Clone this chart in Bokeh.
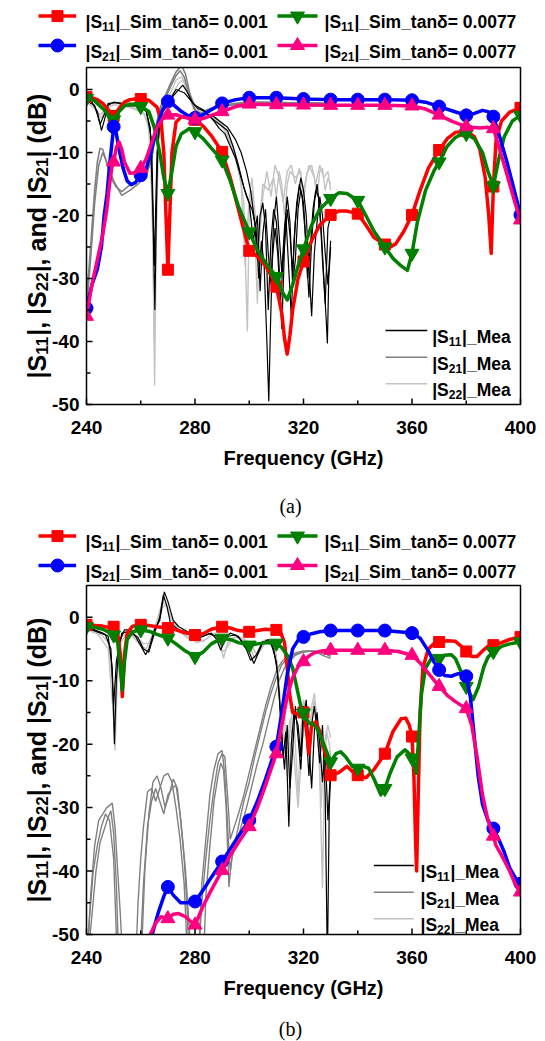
import math
from bokeh.plotting import figure
from bokeh.layouts import column
from bokeh.models import Range1d
from bokeh.embed import file_html
from bokeh.resources import INLINE
from bokeh.core.properties import value

# ------------------------------------------------------------------ data (a)
A_RED_F = [240,242,244,246,248,250,252,254,256,258,260,263,266,267.5,268.5,269.3,270,270.7,271.5,273,275,277,280,283,286,290,293,296,300,303,306,308,310,312,313,314,315,316,318,320,323,326,330,333,336,340,343,346,350,352,354,357,360,363,366,370,373,376,380,383,385,387,388.3,389.2,390,391,393,396,400]
A_RED_V = [-1.2,-1.3,-1.6,-2.2,-3.2,-4.2,-3.0,-2.0,-1.6,-1.5,-1.5,-1.7,-2.8,-5,-10,-20,-28.6,-20,-10,-5.2,-4.3,-4.4,-4.8,-5.8,-7.3,-9.9,-14,-19,-25.6,-26.5,-28,-29.5,-31.3,-35.5,-39.5,-42,-39,-35,-30,-27.3,-24,-21.5,-19.9,-19.3,-19.3,-19.7,-21.5,-23.5,-24.6,-25,-24.5,-22.5,-19.9,-16,-12.5,-9.6,-7.8,-6.8,-6.6,-7.5,-9.5,-14,-20,-26,-15.4,-8,-5,-3.6,-2.9]
A_GRN_F = [240,243,246,248,250,252,254,256,258,260,263,265,267,268.5,270,271.5,273,275,278,280,283,286,290,293,296,300,303,306,310,312,314,316,318,320,323,326,330,333,336,340,343,346,350,353,356,358.3,360,362,365,368,370,373,376,379,380,383,386,388,390,392,394,397,400]
A_GRN_V = [-1.4,-1.8,-3.0,-4.0,-4.8,-3.5,-2.6,-2.3,-2.4,-2.7,-3.5,-6,-10,-14,-16.5,-13,-9,-7,-6.2,-6.7,-7.8,-9.3,-11.2,-14.5,-18.5,-22.6,-25.5,-27.5,-29.7,-32,-33.4,-31,-28,-25.3,-21.5,-19,-17.3,-16.4,-16.5,-17.6,-20,-22.5,-25.0,-26.8,-28,-28.7,-26.0,-21,-16,-13,-11.5,-9,-7.6,-6.9,-7.0,-7.8,-10,-13,-15.3,-11,-7.5,-5,-4.1]
A_BLU_F = [240,242,244,245.5,246.5,247.6,248.5,249.5,250,251,252,253.5,255,256.5,258,260,262,264,266,268,270,272,275,278,280,283,286,290,295,300,310,320,330,340,350,360,365,370,375,380,383,386,388,390,392,395,398,400]
A_BLU_V = [-34.7,-31,-28.5,-25,-20,-16.5,-12,-8,-5.9,-7,-9.5,-12.5,-14.5,-15.1,-14.8,-13.6,-12.6,-9.5,-6,-3.3,-1.9,-2.4,-3.5,-4.3,-4.5,-4.0,-3.2,-2.2,-1.6,-1.3,-1.3,-1.5,-1.6,-1.6,-1.6,-1.7,-2.0,-2.7,-3.4,-4.1,-3.8,-3.3,-3.5,-4.3,-7,-11.5,-16.5,-19.9]
A_PNK_F = [240,242,244,246,247.5,248.5,249.3,250,251,252,253,254,256,258,260,262,264,266,268,270,273,276,280,283,286,290,295,300,310,320,330,340,350,360,365,370,375,380,385,388,390,392,395,398,400]
A_PNK_V = [-36,-31,-27,-23,-19,-15,-12.5,-11.5,-9.2,-8.3,-9.5,-11.5,-13.3,-13.2,-12.5,-11,-8.5,-6,-4.7,-4.05,-4.0,-4.4,-4.8,-4.6,-4.1,-3.5,-2.7,-2.3,-2.4,-2.45,-2.5,-2.5,-2.5,-2.6,-3.1,-4.05,-5.1,-5.9,-6.1,-6.0,-6.2,-9,-13.5,-18,-20.7]

A_S11M1_F = [240,242,244,245.5,246.5,248,250,253,256,258,260,262,263.5,264.5,265.2,265.8,266.5,268,270,272,274,275.5,277,279,281,284,287,289,291,293,295,297,299,301,302.5,303.5,304.5,305.5,306.5,307.2,307.8,308.5,309.5,310.5,311.5,312.5,313.5,314.5,315.5,316.5,317.5,318.5,319.5,320.5,321.5,322.5,323.5,324.5,325.5,326.5,327.5,328.3,328.8,329.3,330]
A_S11M1_V = [-1.5,-2.0,-3.5,-6.5,-5,-2.5,-2.0,-2.2,-2.5,-2.3,-2.8,-3.5,-6,-20,-35,-18,-6,-3.5,-2.5,-1,0,0.7,-0.3,-2,-3,-3.5,-5,-6.2,-7,-9,-11,-14,-17,-19,-22,-30,-24,-28,-40,-49.5,-38,-27,-22,-26,-34,-27,-20,-28,-36,-24,-18,-15,-17,-22,-30,-25,-19,-16,-17,-22,-30,-36,-40.3,-30,-25]
A_S11M2_F = [240,243,245,246.5,248,251,255,259,262,264,265,266,267.5,270,273,276,278,280,283,286,289,292,294,296,298,300,301.5,303,304,305,306,307,308,309,310,311,312,313,314,315,316,317,318,319,320,321,322,323,324,325,326,327,328,329,330]
A_S11M2_V = [-1.8,-2.5,-5.5,-4,-2.2,-2.1,-2.6,-2.6,-3.2,-8,-28,-10,-4,-2.2,0,-0.5,-1.5,-2.5,-3.2,-4.5,-5.5,-6.5,-9,-12,-15.5,-18,-24,-20,-32,-23,-19,-26,-31,-21,-17,-23,-29,-22,-17,-21,-31,-27,-19,-16,-18,-25,-33,-24,-18,-15,-19,-27,-34,-22,-20]
A_S11M3_F = [286,289,292,295,297,299,300.5,302,303,304,305,306,307,308,309,310,311,312,313,314,315,316,317,318,319,320,321,322,323,324,325,326,327,328,329,330]
A_S11M3_V = [-4,-5,-6,-8,-10,-13,-16,-21,-27,-20,-18,-22,-35,-24,-19,-21,-28,-38,-25,-19,-23,-29,-21,-17,-14,-16,-20,-28,-36,-26,-21,-17,-20,-26,-31,-24]
A_S22M1_F = [240,242,244,245.5,247,249,252,255,258,260,262,263.5,264.5,265.1,265.7,266.5,268,270,272,274,275.5,277,279,282,285,288,290,292,294,296,298,299.3,300,301,302,303,304,305,307,309,310,311,312,313,314,315,317,319,320,321,322,324,325,326,327,328,329,330]
A_S22M1_V = [-1.8,-2.2,-3.8,-4.5,-3.0,-2.2,-2.0,-2.5,-3.0,-3.5,-4,-8,-25,-47,-25,-8,-3.5,-2,-0.5,1.0,1.5,0,-2.5,-3.5,-4,-4.5,-5.5,-7,-9,-12,-18,-38.4,-20,-16,-22,-34,-20,-15,-16,-14,-17,-13,-15,-20,-15,-13,-14,-13,-18,-14,-12,-14,-17,-13,-12.5,-16,-14,-15]
A_S22M2_F = [240,243,245,247,250,254,258,261,263,264.3,265,265.8,267,269,271,273,275,277,280,284,288,291,293,295,297,298.5,300,301,302,303.5,305,306.5,308,309.5,311,312.5,314,315.5,317,318.5,320,321.5,323,324.5,326,327.5,329,330]
A_S22M2_V = [-2,-3,-4,-3.2,-2.4,-2.6,-3.2,-3.8,-6,-18,-40,-15,-5,-2.5,-0.5,1.5,2,0.5,-2.5,-3.8,-4.8,-6.5,-8.5,-11,-15,-28,-17,-14,-19,-25,-17,-13,-17,-12,-14,-18,-13,-12,-15,-12.5,-16,-13,-12,-15,-12,-14,-13,-16]
A_S21M1_F = [240,241,242,243,244,245,246,247,249,251,253,255,257,259,261,263,264.5,265.5,267,269,271,273,275,276.5,278,280,282,284,287,290,295,300,305,310,315,320,325,330]
A_S21M1_V = [-33,-28,-22,-16,-11.5,-9.3,-9.5,-11,-14,-15.5,-16.2,-15.5,-14.8,-14.5,-13.5,-12,-10,-6,-3,-1,1,2.8,3.8,2.5,-0.5,-3.2,-3.8,-3.3,-2.8,-2.5,-2.2,-2.0,-2.0,-2.0,-2.1,-2.1,-2.1,-2.2]
A_S21M2_F = [240,241.5,243,244.5,246,247.5,250,253,256,259,262,264,265.5,267,269,271,273,274.5,276,278,280,283,286,290,300,310,320,330]
A_S21M2_V = [-35,-27,-18,-12,-10,-11.5,-14.5,-16.8,-16,-15,-13.8,-11,-6.5,-3.5,-1.5,0.5,2.2,3.0,2.0,-1,-3.5,-4,-3,-2.6,-2.2,-2.1,-2.2,-2.3]

# ------------------------------------------------------------------ data (b)
B_RED_F = [240,243,246,248,250,251.5,252.5,253.2,254,255,257,260,263,266,270,273,276,280,283,286,290,293,296,300,303,306,310,311.5,313,314,315,316,318,320,321,322,323,324.5,326,328,330,333,336,338,340,343,346,350,353,356,357.7,359,360,360.7,361.3,361.7,362.2,363,364,366,368,370,373,376,378,380,382,384,386,388,390,393,396,400]
B_RED_V = [-1.2,-1.3,-1.4,-1.6,-1.5,-2.5,-6,-12.5,-6,-2.5,-1.4,-1.2,-1.3,-1.5,-1.7,-2.0,-2.4,-2.8,-2.6,-1.9,-1.5,-1.7,-2.1,-2.3,-2.1,-1.9,-2.0,-2.3,-4,-8,-12.5,-15,-15.3,-15,-17.5,-21.5,-17,-16.5,-18,-21.5,-24.9,-24.5,-23.5,-24.3,-24.9,-25.3,-24,-21.5,-18,-16,-15.9,-17,-18.8,-25,-35,-40,-30,-15,-8,-5,-4.2,-3.9,-3.7,-3.8,-4.5,-5.4,-6.2,-6.2,-5.3,-4.6,-4.4,-4.0,-3.5,-3.1]
B_GRN_F = [240,243,246,248,250,251.5,252.5,253.2,254,255,257,260,263,266,270,273,276,280,283,286,290,293,296,300,303,306,310,312,314,316,317.5,319,320,321,322,323,325,327,330,332,333.7,335.5,338,340,342,344,346,348.5,350,352,354.5,357.4,359,360,361,361.6,362.3,363.5,365,367,370,372,374.4,376,378,380,382.5,384.5,386.5,388,390,393,396,400]
B_GRN_V = [-1.5,-1.6,-1.9,-2.3,-2.8,-4,-8,-11.5,-7,-3.5,-2.3,-2.0,-2.2,-2.7,-3.3,-4.2,-5.2,-6.2,-5.5,-4.2,-3.3,-3.5,-4.0,-4.4,-4.2,-4.0,-4.1,-4.8,-6,-8,-11,-14,-15.1,-16,-16.7,-16.7,-17.5,-19.5,-22.8,-21.5,-21.2,-22,-23.5,-23.8,-23.5,-23.8,-25.5,-28,-27,-24.5,-22,-20.9,-21.5,-22.2,-23.5,-24.6,-20,-12,-8,-6.6,-6.5,-6,-5.9,-6.5,-8.5,-10.9,-13.0,-11,-7.8,-6.3,-5.4,-4.6,-4.2,-3.9]
B_BLU_F = [240,250,260,263,264.2,266.5,268.5,270,272,274.7,277,280,283,286,290,293,296,300,303,306,310,312,314,316,318,320,323,326,330,340,350,360,363,366,368,370,372,374.5,377,379,380,381.5,383,384.4,386,388,390,392,394,396,398,400]
B_BLU_V = [-60,-58,-55,-51,-50,-46.5,-44,-42.5,-43.8,-45,-45,-44.8,-43,-41,-38.5,-36.5,-34.5,-32,-29,-25.5,-20.4,-15,-9,-5,-3.6,-3.1,-2.6,-2.3,-2.1,-2.1,-2.1,-2.5,-3.3,-5.3,-7,-8.3,-9.2,-9.3,-8.9,-8.9,-9.3,-12.5,-19,-25,-29.5,-32,-33.3,-35,-37,-39.5,-41,-42]
B_PNK_F = [240,255,262,263.5,265.5,267.5,270,272,274,276.5,279,280,283,286,290,293,296,300,303,306,310,312,314,316,318,320,322,324,327,330,340,350,355,360,363,366,370,373,376,380,382,384,386,388,390,391,393,396,398,400]
B_PNK_V = [-60,-57,-52,-50,-48.2,-47.2,-47.5,-46.8,-46.7,-47.2,-48.2,-48.5,-45.5,-43,-39.9,-37.5,-35.5,-33.0,-30,-26.5,-21.5,-17,-12.5,-9.5,-7.8,-7.0,-6.1,-5.6,-5.3,-5.2,-5.2,-5.2,-5.4,-6.0,-7.2,-8.8,-10.9,-12.3,-13.3,-14.4,-17,-22,-28,-32,-34.5,-36,-37.5,-40,-42,-43.3]

B_S11M1_F = [240,243,246,248,249.5,250.3,251,252,254,256,258,260,261.8,263,265,267,268.7,270,272,274,277,280,283,286,288,289.5,291,293,296,298,300,301.7,303,305,307,309,310.5,311.5,312.5,313.5,314.6,315.5,316.5,318,319,320,321,322,323,324,325,326,327,328,328.8,329.5,330]
B_S11M1_V = [-1.5,-2,-2.5,-3,-8,-20,-10,-4,-2,-2,-3,-4.5,-5.9,-5,-2,-0.5,4.0,2.5,-0.5,-1.5,-2.2,-2.8,-3,-2.5,-3.5,-5.2,-3.5,-2.5,-3,-4.5,-5.5,-7.3,-6,-4,-3.5,-5,-9,-15,-22,-18,-33,-20,-15,-17,-22,-14,-18,-25,-17,-14,-18,-23,-17,-28,-55,-30,-25]
B_S11M2_F = [240,244,247,249,250,251,253,256,259,261,263,265,267,268.3,269.5,271,274,278,282,285,288,290,292,295,298,300.5,302.5,305,308,310,311,312,313,314,315,316,317,318,319,320,321,322,323,324,325,326,327,328,329,330]
B_S11M2_V = [-1.7,-2.3,-2.8,-5,-14,-7,-2.5,-2.2,-3.2,-5,-5.5,-2.5,0,3.5,2,-1,-2,-2.5,-3.2,-2.6,-3,-4.6,-3,-2.8,-4,-6.8,-6,-3.8,-4,-7,-12,-19,-24,-17,-27,-21,-14,-19,-24,-16,-13,-20,-27,-18,-15,-20,-26,-21,-32,-24]
B_S22M1_F = [240,243,246,248,249.5,250.5,251.5,253,256,258,260,262,264,266,268,270,272,275,278,281,284,287,289,290.5,292,295,298,300,302,304,306,308,310,311,312,313,314,315,316,317,318,319,320,321,322,323,324,325,326,327,327.7,328.5,329.5,330]
B_S22M1_V = [-1.8,-2.2,-3,-4,-10,-21,-8,-3,-2.5,-3.5,-4.5,-5,-3,-0.5,2.5,1.5,-1,-2.5,-3.5,-4,-3.5,-2.5,-3.5,-6.5,-4,-3,-3.5,-4.5,-6.5,-5,-3.5,-4,-6,-12,-20,-15,-25,-18,-14,-20,-28,-18,-13,-15,-20,-14,-12,-16,-25,-42.7,-25,-18,-20,-22]
B_S22M2_F = [240,244,248,250,251,252.5,255,258,261,264,266,268,269.5,271,274,277,280,283,286,288,290,291.5,294,297,300,303,306,309,310.5,312,313.5,315,316.5,318,319.5,321,322.5,324,325.5,326.5,327.5,329,330]
B_S22M2_V = [-2,-2.6,-5,-16,-12,-4,-2.6,-3,-4.2,-4,-1.5,1.5,2,0,-2,-3,-3.8,-3.8,-2.8,-3,-5.5,-5,-3.2,-3.2,-4,-6,-4,-4.5,-8,-16,-22,-16,-22,-30,-20,-14,-17,-13,-18,-30,-20,-17,-19]
B_S21M1_F = [240,241.5,243,244.5,246,247.5,249.5,250.5,251.5,252.5,253.5,258,259,260,261,262.5,264,265.5,267,268.5,270,271.5,273,274.5,276,277.5,281,282.5,284,285.5,287,288.5,290,291,292,293,294,296,298,300,302,304,306,308,310,312,314,316,318,320,324,326,328,330]
B_S21M1_V = [-56,-44,-36,-32,-31,-30,-29.3,-33,-40,-47,-56,-56,-45,-38,-33,-27.5,-27,-29,-27,-25,-24.6,-26,-30,-35,-42,-56,-56,-42,-35,-28,-24,-21.5,-21,-25,-33,-40,-37,-33,-29,-26,-22,-18.5,-15,-12,-9.5,-7.5,-6.5,-6,-5.7,-5.5,-5.3,-5.5,-5.7,-6.2]
B_S21M2_F = [240,242,243.5,245,246.5,248,249,250,251,252,259.5,261,262.5,264,265.5,267,268.5,270,271.5,273,274.5,276,277,278,283,284,285.5,287,288.5,289.5,290.5,291.5,292.5,293.5,295,297,299,301,303,305,307,309,311,313,315,317,319,322,325,327,330]
B_S21M2_V = [-56,-47,-40,-35.5,-33.5,-31.5,-30.5,-34,-42,-56,-56,-42,-33,-29,-27,-29,-31,-28,-27,-26.5,-31,-38,-45,-56,-56,-44,-36,-29,-25,-23,-24,-30,-42.5,-38,-36,-33,-30,-26.5,-23,-20,-16.5,-13,-10,-8,-6.8,-6,-5.6,-5.3,-5.5,-6,-6.5]
B_S21M3_F = [240,241,242.5,244,245.5,247,248.5,250,251.5,260,261.5,263,264.5,266,267.5,269,270.5,272,273.5,275,276.5,279,281,282.5,284,285.5,287,288.5,290,291,292,293,294.5,296,298,300,302,304,306,308,310,312,314,316,318,320,323,326,330]
B_S21M3_V = [-56,-48,-40,-36,-33,-31,-32,-38,-56,-56,-40,-31,-26,-25,-27,-30,-28,-25.5,-27,-33,-40,-56,-56,-45,-38,-32,-27,-23,-21.5,-22,-28,-35,-33,-31,-28,-24.5,-21,-17.5,-14,-11,-8.5,-7,-6.2,-5.8,-5.5,-5.3,-5.3,-5.6,-6]

# ------------------------------------------------------------------ labels / ticks
X_TICKS = [240, 280, 320, 360, 400]
X_MINOR = [260, 300, 340, 380]
Y_TICKS = [-50, -40, -30, -20, -10, 0]
Y_MINOR = [-45, -35, -25, -15, -5]
SIM_LABELS = [
    [("|S", 0), ("11", 1), ("|_Sim_tan\u03b4= 0.001", 0)],
    [("|S", 0), ("11", 1), ("|_Sim_tan\u03b4= 0.0077", 0)],
    [("|S", 0), ("21", 1), ("|_Sim_tan\u03b4= 0.001", 0)],
    [("|S", 0), ("21", 1), ("|_Sim_tan\u03b4= 0.0077", 0)],
]
MEA_LABELS = [
    [("|S", 0), ("11", 1), ("|_Mea", 0)],
    [("|S", 0), ("21", 1), ("|_Mea", 0)],
    [("|S", 0), ("22", 1), ("|_Mea", 0)],
]
Y_LABEL = [("|S", 0), ("11", 1), ("|, |S", 0), ("22", 1), ("|, and |S", 0), ("21", 1), ("| (dB)", 0)]
X_LABEL = "Frequency (GHz)"

RED, GRN, BLU, PNK = "#ff0000", "#007f00", "#0000ff", "#ff0080"
BLK, GRY, LGR = "#000000", "#808080", "#c3c3c3"
FONT = "Liberation Sans"

# Arial-bold advance widths (per 1000 em)
W = {' ': 278, '(': 333, ')': 333, ',': 278, '-': 333, '.': 278, '=': 584, '_': 556, '|': 280,
     'B': 722, 'M': 833, 'S': 667, 'a': 556, 'd': 611, 'e': 556, 'i': 278, 'm': 889, 'n': 611,
     't': 333, '\u03b4': 611}


def tw(s, fs):
    return sum(W.get(c, 556) for c in s) * fs / 1000.0


PAGE_W = 545
BOX_L, BOX_R = 86, 520          # plot box, page px
KX = (400 - 240) / (BOX_R - BOX_L)
X_START = 240 - BOX_L * KX
X_END = X_START + PAGE_W * KX


def rich_text(p, parts, x, y, fx, fy, fs, fss, drop, angle=0.0):
    """text with subscripts; (x, y) = baseline start in page px"""
    cx, cy = x, y
    for t, sub in parts:
        f = fss if sub else fs
        if angle == 0.0:
            px, py = cx, cy + (drop if sub else 0)
        else:
            px, py = cx + (drop if sub else 0), cy
        p.text(x=[fx(px)], y=[fy(py)], text=[t], angle=angle,
               text_font=value(FONT), text_font_style="bold", text_font_size=f"{f}px",
               text_align="left", text_baseline="alphabetic", text_color="black")
        if angle == 0.0:
            cx += tw(t, f)
        else:
            cy -= tw(t, f)


def panel(page_top, height, box_top, box_bot, ytop, sims, meas, leg_rows, mea_leg, caption, cap_dy):
    ky = (ytop + 50) / (box_bot - box_top)
    y_end = ytop + (box_top - page_top) * ky
    y_start = y_end - height * ky
    fx = lambda px: X_START + px * KX
    fy = lambda py: y_end - (py - page_top) * ky

    p = figure(frame_width=PAGE_W, frame_height=height, x_range=Range1d(X_START, X_END),
               y_range=Range1d(y_start, y_end), x_axis_location=None, y_axis_location=None,
               min_border=0, toolbar_location=None, output_backend="svg")
    p.grid.visible = False
    p.outline_line_color = None

    # measured traces, then simulated traces with markers
    for f, v, c, w in meas:
        p.line(f, v, line_color=c, line_width=w)
    for f, v, c, m, sz in sims:
        p.line(f, v, line_color=c, line_width=3.5, line_join="round")
        mf = [a for a in f if a % 10 == 0]
        mv = [b for a, b in zip(f, v) if a % 10 == 0]
        p.scatter(mf, mv, marker=m, size=sz, color=c)

    # white masks outside the plot box (clip data to the axes like the original)
    p.quad(left=[X_START, X_START, X_START, 400], right=[X_END, X_END, 240, X_END],
           bottom=[y_start, ytop, -50, -50], top=[-50, y_end, ytop, ytop],
           fill_color="white", line_color=None)

    # plot box
    p.quad(left=[240], right=[400], bottom=[-50], top=[ytop], fill_color=None,
           line_color="black", line_width=1.5)

    # x ticks / labels
    p.segment(x0=X_TICKS, y0=[-50] * len(X_TICKS), x1=X_TICKS, y1=[-50 + 6 * ky] * len(X_TICKS),
              line_color="black", line_width=1.5)
    p.segment(x0=X_MINOR, y0=[-50] * len(X_MINOR), x1=X_MINOR, y1=[-50 + 4 * ky] * len(X_MINOR),
              line_color="black", line_width=1.5)
    p.text(x=X_TICKS, y=[fy(box_bot + 23)] * len(X_TICKS), text=[str(t) for t in X_TICKS],
           text_font=value(FONT), text_font_style="bold", text_font_size="19px",
           text_align="center", text_baseline="middle", text_color="black")
    p.text(x=[320], y=[fy(box_bot + 53)], text=[X_LABEL],
           text_font=value(FONT), text_font_style="bold", text_font_size="20px",
           text_align="center", text_baseline="middle", text_color="black")
    p.text(x=[fx(290)], y=[fy(box_bot + cap_dy)], text=[caption],
           text_font=value("Liberation Serif"), text_font_size="20px",
           text_align="center", text_baseline="middle", text_color="black")

    # y ticks / labels
    p.segment(x0=[240] * len(Y_TICKS), y0=Y_TICKS, x1=[240 + 6 * KX] * len(Y_TICKS), y1=Y_TICKS,
              line_color="black", line_width=1.5)
    p.segment(x0=[240] * len(Y_MINOR), y0=Y_MINOR, x1=[240 + 4 * KX] * len(Y_MINOR), y1=Y_MINOR,
              line_color="black", line_width=1.5)
    p.text(x=[240 - 7 * KX] * len(Y_TICKS), y=Y_TICKS, text=[str(t) for t in Y_TICKS],
           text_font=value(FONT), text_font_style="bold", text_font_size="19px",
           text_align="right", text_baseline="middle", text_color="black")

    # rotated y label with subscripts, centred on the box
    yfs, yfss, ydrop = 25, 17, 5.5
    total = sum(tw(t, yfss if s else yfs) for t, s in Y_LABEL)
    rich_text(p, Y_LABEL, 36, (box_top + box_bot) / 2 + total / 2, fx, fy, yfs, yfss, ydrop, angle=math.pi / 2)

    # top legend (simulations)
    cols = [(38, 75.6, 57, 85), (277, 317, 297, 324)]
    pos = [(0, 0), (1, 0), (0, 1), (1, 1)]
    for (f, v, c, m, sz), lab, (ci, ri) in zip(sims, SIM_LABELS, pos):
        x0, x1, xm, xt = cols[ci]
        yy = leg_rows[ri]
        p.line([fx(x0), fx(x1)], [fy(yy), fy(yy)], line_color=c, line_width=3.5)
        p.scatter([fx(xm)], [fy(yy)], marker=m, size=sz, color=c)
        rich_text(p, lab, xt, yy + 6.3, fx, fy, 17.5, 12, 4.5)

    # inner legend (measurements)
    lx0, lx1, ltx, rows = mea_leg
    for c, lab, yy in zip([BLK, GRY, LGR], MEA_LABELS, rows):
        p.line([fx(lx0), fx(lx1)], [fy(yy), fy(yy)], line_color=c, line_width=1.5)
        rich_text(p, lab, ltx, yy + 6.3, fx, fy, 17.5, 12, 4.5)
    return p


sims_a = [(A_RED_F, A_RED_V, RED, "square", 11), (A_GRN_F, A_GRN_V, GRN, "inverted_triangle", 14),
          (A_BLU_F, A_BLU_V, BLU, "circle", 13), (A_PNK_F, A_PNK_V, PNK, "triangle", 14)]
meas_a = [(A_S22M1_F, A_S22M1_V, LGR, 1.4), (A_S22M2_F, A_S22M2_V, LGR, 1.4),
          (A_S21M1_F, A_S21M1_V, GRY, 1.6), (A_S21M2_F, A_S21M2_V, GRY, 1.6),
          (A_S11M1_F, A_S11M1_V, BLK, 1.2), (A_S11M2_F, A_S11M2_V, BLK, 1.2), (A_S11M3_F, A_S11M3_V, BLK, 1.2)]
sims_b = [(B_RED_F, B_RED_V, RED, "square", 11), (B_GRN_F, B_GRN_V, GRN, "inverted_triangle", 14),
          (B_BLU_F, B_BLU_V, BLU, "circle", 13), (B_PNK_F, B_PNK_V, PNK, "triangle", 14)]
meas_b = [(B_S21M1_F, B_S21M1_V, GRY, 1.4), (B_S21M2_F, B_S21M2_V, GRY, 1.4), (B_S21M3_F, B_S21M3_V, GRY, 1.4),
          (B_S22M1_F, B_S22M1_V, LGR, 1.4), (B_S22M2_F, B_S22M2_V, LGR, 1.4),
          (B_S11M1_F, B_S11M1_V, BLK, 1.2), (B_S11M2_F, B_S11M2_V, BLK, 1.2)]

pa = panel(0, 520, 67, 404, 3.5, sims_a, meas_a, [15.6, 45],
           (385, 426.7, 431.7, [330, 356.7, 383.3]), "(a)", 101)
pb = panel(520, 521, 585, 934, 5, sims_b, meas_b, [535.6, 565],
           (373.3, 413.3, 420, [865, 891.7, 918.3]), "(b)", 94)

layout = column(pa, pb, spacing=0)
open("out.html", "w").write(file_html(layout, INLINE, "S-parameters"))
